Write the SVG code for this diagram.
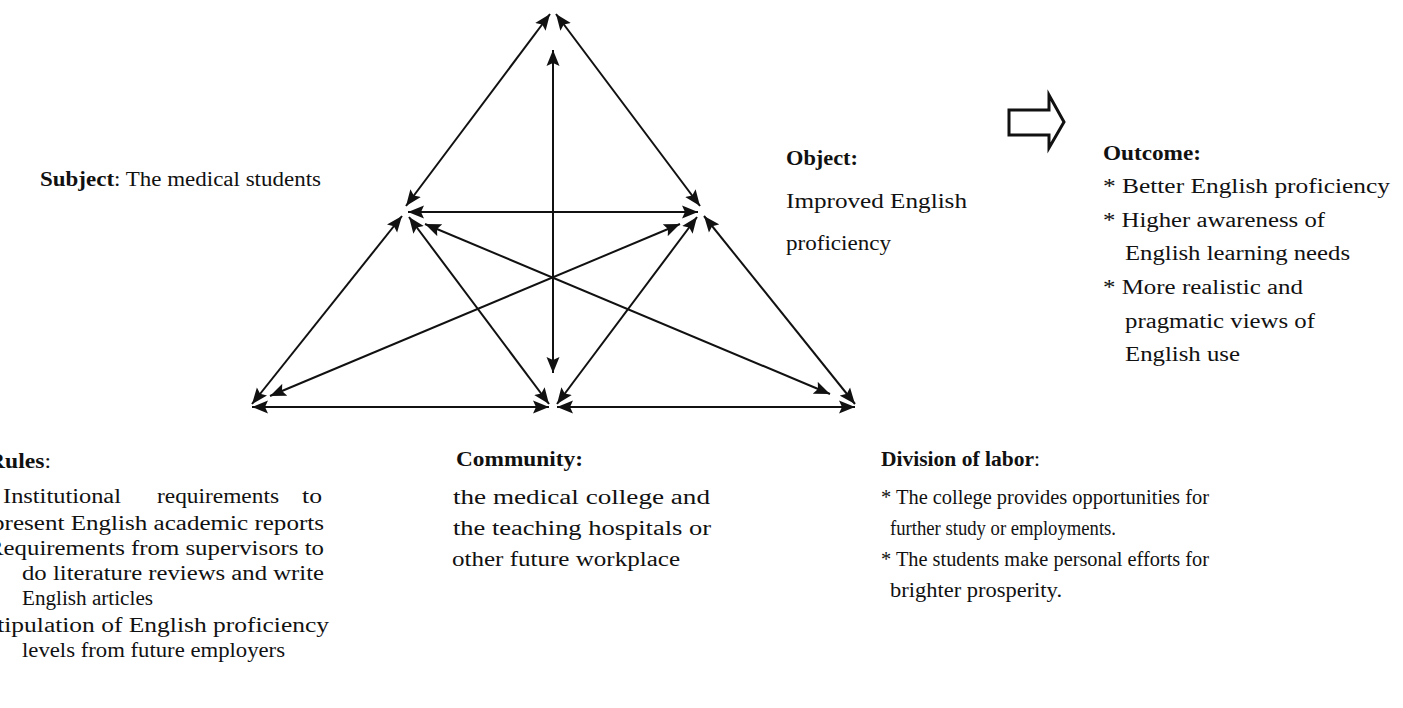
<svg xmlns="http://www.w3.org/2000/svg" width="1403" height="708" viewBox="0 0 1403 708">
<defs>
<marker id="ah" markerUnits="userSpaceOnUse" markerWidth="18" markerHeight="14" refX="16" refY="7" orient="auto-start-reverse">
<path d="M0,0.5 L16,7 L0,13.5 L3,7 Z" fill="#111"/>
</marker>
<style>
.t { font-family: "Liberation Serif", "Times New Roman", serif; font-size: 20px; fill: #111; }
.b { font-weight: bold; }
.ln { stroke: #111; stroke-width: 2; fill: none; marker-start: url(#ah); marker-end: url(#ah); }
.blk { fill: #fff; stroke: #111; stroke-width: 3; stroke-linejoin: miter; }
</style>
</defs>
<rect width="1403" height="708" fill="#fff"/>

<g id="connectors">
<line class="ln" x1="550" y1="14" x2="406" y2="206"/>
<line class="ln" x1="556" y1="14" x2="700" y2="206"/>
<line class="ln" x1="408" y1="212" x2="698" y2="212"/>
<line class="ln" x1="402" y1="216" x2="252" y2="404"/>
<line class="ln" x1="409" y1="217" x2="549" y2="404"/>
<line class="ln" x1="697" y1="217" x2="557" y2="404"/>
<line class="ln" x1="704" y1="216" x2="855" y2="404"/>
<line class="ln" x1="252" y1="407" x2="549" y2="407"/>
<line class="ln" x1="557" y1="407" x2="855" y2="407"/>
<line class="ln" x1="553" y1="50" x2="553" y2="373"/>
<line class="ln" x1="425" y1="224" x2="830" y2="394"/>
<line class="ln" x1="270" y1="396" x2="680" y2="224"/>
</g>

<g id="transition-arrow">
<path class="blk" d="M1009,110 H1049 V95 L1064,122 L1049,148 V135 H1009 Z"/>
</g>

<g id="subject">
<text class="t" x="40" y="186" textLength="281" lengthAdjust="spacingAndGlyphs"><tspan class="b">Subject</tspan>: The medical students</text>
</g>

<g id="object">
<text class="t b" x="786" y="165" textLength="72" lengthAdjust="spacingAndGlyphs">Object:</text>
<text class="t" x="786" y="208" textLength="181" lengthAdjust="spacingAndGlyphs">Improved  English</text>
<text class="t" x="786" y="250" textLength="105" lengthAdjust="spacingAndGlyphs">proficiency</text>
</g>

<g id="outcome">
<text class="t b" x="1103" y="160" textLength="98" lengthAdjust="spacingAndGlyphs">Outcome:</text>
<text class="t" x="1103" y="193" textLength="287" lengthAdjust="spacingAndGlyphs">* Better English proficiency</text>
<text class="t" x="1103" y="227" textLength="222" lengthAdjust="spacingAndGlyphs">* Higher awareness of</text>
<text class="t" x="1125" y="260" textLength="225" lengthAdjust="spacingAndGlyphs">English learning needs</text>
<text class="t" x="1103" y="294" textLength="200" lengthAdjust="spacingAndGlyphs">* More realistic and</text>
<text class="t" x="1125" y="328" textLength="190" lengthAdjust="spacingAndGlyphs">pragmatic views of</text>
<text class="t" x="1125" y="361" textLength="115" lengthAdjust="spacingAndGlyphs">English use</text>
</g>

<g id="rules">
<text class="t" x="-12" y="468" textLength="63" lengthAdjust="spacingAndGlyphs"><tspan class="b">Rules</tspan>:</text>
<text class="t" x="3" y="503" textLength="118" lengthAdjust="spacingAndGlyphs">Institutional</text>
<text class="t" x="157" y="503" textLength="122" lengthAdjust="spacingAndGlyphs">requirements</text>
<text class="t" x="302" y="503" textLength="20" lengthAdjust="spacingAndGlyphs">to</text>
<text class="t" x="-8" y="530" textLength="332" lengthAdjust="spacingAndGlyphs">present English academic reports</text>
<text class="t" x="-13" y="555" textLength="337" lengthAdjust="spacingAndGlyphs">Requirements from supervisors to</text>
<text class="t" x="22" y="580" textLength="302" lengthAdjust="spacingAndGlyphs">do literature reviews and write</text>
<text class="t" x="22" y="605" textLength="131" lengthAdjust="spacingAndGlyphs">English articles</text>
<text class="t" x="-17" y="632" textLength="346" lengthAdjust="spacingAndGlyphs">Stipulation of English proficiency</text>
<text class="t" x="22" y="657" textLength="263" lengthAdjust="spacingAndGlyphs">levels from future employers</text>
</g>

<g id="community">
<text class="t b" x="456" y="466" textLength="127" lengthAdjust="spacingAndGlyphs">Community:</text>
<text class="t" x="453" y="504" textLength="257" lengthAdjust="spacingAndGlyphs">the medical college and</text>
<text class="t" x="453" y="535" textLength="258" lengthAdjust="spacingAndGlyphs">the teaching hospitals or</text>
<text class="t" x="452" y="566" textLength="228" lengthAdjust="spacingAndGlyphs">other future workplace</text>
</g>

<g id="division">
<text class="t" x="881" y="466" textLength="159" lengthAdjust="spacingAndGlyphs"><tspan class="b">Division of labor</tspan>:</text>
<text class="t" x="881" y="504" textLength="328" lengthAdjust="spacingAndGlyphs">* The college provides opportunities for</text>
<text class="t" x="890" y="535" textLength="226" lengthAdjust="spacingAndGlyphs">further study or employments.</text>
<text class="t" x="881" y="566" textLength="328" lengthAdjust="spacingAndGlyphs">* The students make personal efforts for</text>
<text class="t" x="890" y="597" textLength="172" lengthAdjust="spacingAndGlyphs">brighter prosperity.</text>
</g>
</svg>
